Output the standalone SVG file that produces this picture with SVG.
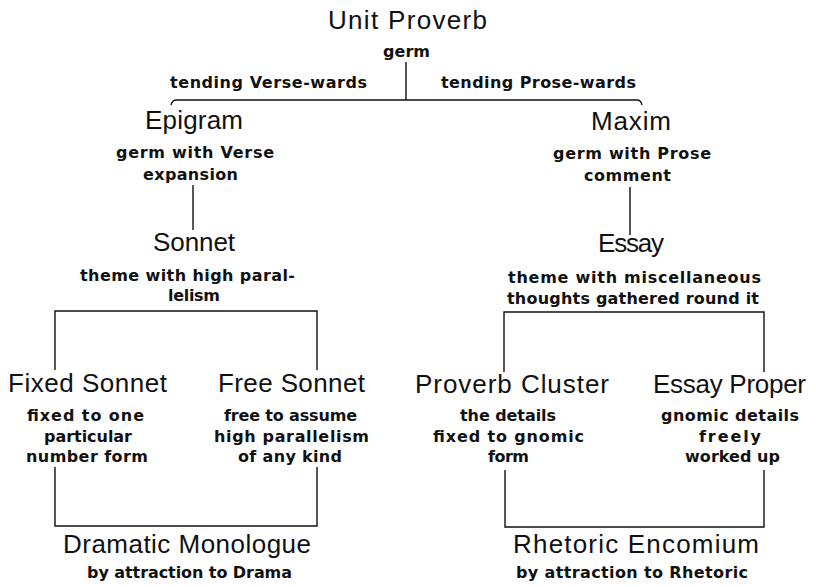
<svg xmlns="http://www.w3.org/2000/svg" width="816" height="587" viewBox="0 0 816 587">
<style>
.h{font-family:"Liberation Sans",Arial,sans-serif;font-size:26px;fill:#111}
.s{font-family:"DejaVu Sans","Liberation Sans",sans-serif;font-size:16px;font-weight:bold;fill:#111}
.c{fill:none;stroke:#111;stroke-width:1.4}
</style>
<rect width="816" height="587" fill="#fff"/>
<g id="connectors">
<path class="c" d="M406,62 V100"/>
<path class="c" d="M171,105 Q172,100 177,100 H637 Q641,100 642,105"/>
<path class="c" d="M193,185 V230"/>
<path class="c" d="M630,187 V235"/>
<path class="c" d="M55,370 V311 H317 V370"/>
<path class="c" d="M504,372 V312 H764 V372"/>
<path class="c" d="M55,467 V526 H317 V467"/>
<path class="c" d="M505,470 V527 H764 V470"/>
</g>
<g id="unit-proverb">
<text class="h" x="328" y="29" textLength="159">Unit Proverb</text>
<text class="s" x="383" y="57" textLength="47">germ</text>
</g>
<g id="edge-labels">
<text class="s" x="170" y="88" textLength="197">tending Verse-wards</text>
<text class="s" x="441" y="88" textLength="195">tending Prose-wards</text>
</g>
<g id="epigram">
<text class="h" x="145" y="129" textLength="98">Epigram</text>
<text class="s" x="116" y="158" textLength="158">germ with Verse</text>
<text class="s" x="143" y="180" textLength="95">expansion</text>
</g>
<g id="maxim">
<text class="h" x="591" y="130" textLength="80">Maxim</text>
<text class="s" x="553" y="159" textLength="158">germ with Prose</text>
<text class="s" x="584" y="181" textLength="87">comment</text>
</g>
<g id="sonnet">
<text class="h" x="153" y="251" textLength="82">Sonnet</text>
<text class="s" x="80" y="281" textLength="215">theme with high paral-</text>
<text class="s" x="168" y="301" textLength="52">lelism</text>
</g>
<g id="essay">
<text class="h" x="598" y="252" textLength="66">Essay</text>
<text class="s" x="508" y="283" textLength="253">theme with  miscellaneous</text>
<text class="s" x="507" y="304" textLength="252">thoughts gathered round it</text>
</g>
<g id="fixed-sonnet">
<text class="h" x="8" y="392" textLength="159">Fixed Sonnet</text>
<text class="s" x="27" y="421" textLength="117">fixed to one</text>
<text class="s" x="44" y="442" textLength="88">particular</text>
<text class="s" x="26" y="462" textLength="122">number form</text>
</g>
<g id="free-sonnet">
<text class="h" x="218" y="392" textLength="147">Free Sonnet</text>
<text class="s" x="224" y="421" textLength="133">free to assume</text>
<text class="s" x="214" y="442" textLength="155">high parallelism</text>
<text class="s" x="238" y="462" textLength="104">of any kind</text>
</g>
<g id="proverb-cluster">
<text class="h" x="415" y="393" textLength="194">Proverb Cluster</text>
<text class="s" x="460" y="421" textLength="96">the details</text>
<text class="s" x="433" y="442" textLength="151">fixed to gnomic</text>
<text class="s" x="488" y="462" textLength="41">form</text>
</g>
<g id="essay-proper">
<text class="h" x="653" y="393" textLength="153">Essay Proper</text>
<text class="s" x="661" y="421" textLength="138">gnomic details</text>
<text class="s" x="699" y="442" textLength="62">freely</text>
<text class="s" x="685" y="462" textLength="95">worked up</text>
</g>
<g id="dramatic-monologue">
<text class="h" x="63" y="553" textLength="248">Dramatic Monologue</text>
<text class="s" x="87" y="578" textLength="205">by attraction to Drama</text>
</g>
<g id="rhetoric-encomium">
<text class="h" x="513" y="553" textLength="246">Rhetoric  Encomium</text>
<text class="s" x="516" y="578" textLength="232">by attraction to Rhetoric</text>
</g>
</svg>
